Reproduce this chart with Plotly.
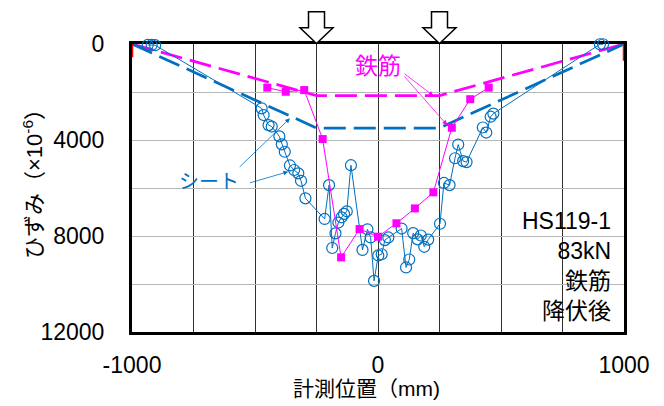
import plotly.graph_objects as go

# ---- data ----
sheet_x = [-936, -920, -906, -473, -465, -445, -432, -401, -391, -379, -358, -341, -324, -313, -295,
           -217, -199, -186, -173, -161, -148, -138, -127, -110, -63, -43, -30, -16, 1, 15, 28, 42,
           96, 114, 127, 143, 161, 174, 188, 204, 252, 268, 291, 313, 326, 346, 360, 426, 440, 458,
           469, 902, 915]
sheet_y = [40, 40, 50, 2680, 2960, 3380, 3440, 3850, 4180, 4490, 5060, 5250, 5390, 5700, 6430,
           7290, 5880, 8500, 7890, 7440, 7220, 7080, 6970, 5050, 8580, 7720, 8060, 9870, 8810, 8760,
           8170, 8060, 7690, 9310, 8980, 7880, 8140, 7980, 8450, 8150, 7490, 5790, 5880, 4760, 4190,
           4880, 4920, 3480, 3690, 3030, 2900, 10, 10]

rebar_x = [-450, -375, -300, -225, -150, -75, 0, 75, 150, 225, 300, 375, 450]
rebar_y = [1820, 1990, 1920, 3960, 8890, 7710, 8030, 7470, 6850, 6180, 3490, 2300, 1820]

sheet_est_x = [-1000, -250, 250, 1000]
sheet_est_y = [0, 3500, 3500, 0]
rebar_est_x = [-1000, -250, 250, 1000]
rebar_est_y = [0, 2150, 2150, 0]

red_left_x = [-1000, -1000]
red_left_y = [0, 550]
red_right_x = [1000, 1000]
red_right_y = [0, 700]

x_gridvals = [-1000, -750, -500, -250, 0, 250, 500, 750, 1000]
x_ticktext = ["-1000", "", "", "", "0", "", "", "", "1000"]
y_gridvals = [0, 2000, 4000, 6000, 8000, 10000, 12000]
y_ticktext = ["0", "", "4000", "", "8000", "", "12000"]
load_points = [-250, 250]

BLUE = "#0070C0"
MAG = "#FF00FF"
FONT = "Liberation Sans, Arial, Noto Sans CJK JP, sans-serif"
DASH = "22px,8px"

fig = go.Figure()
fig.add_trace(go.Scatter(x=rebar_est_x, y=rebar_est_y, mode="lines",
                         line=dict(color=MAG, width=2.75, dash=DASH), cliponaxis=False))
fig.add_trace(go.Scatter(x=sheet_est_x, y=sheet_est_y, mode="lines",
                         line=dict(color=BLUE, width=2.75, dash=DASH), cliponaxis=False))
fig.add_trace(go.Scatter(x=sheet_x, y=sheet_y, mode="lines+markers",
                         line=dict(color=BLUE, width=1),
                         marker=dict(symbol="circle-open", size=11, color=BLUE, line=dict(width=1.2)),
                         cliponaxis=False))
fig.add_trace(go.Scatter(x=rebar_x, y=rebar_y, mode="lines+markers",
                         line=dict(color=MAG, width=1),
                         marker=dict(symbol="square", size=8, color=MAG), cliponaxis=False))
fig.add_trace(go.Scatter(x=red_left_x, y=red_left_y, mode="lines",
                         line=dict(color="#FF0000", width=2.5), cliponaxis=False))
fig.add_trace(go.Scatter(x=red_right_x, y=red_right_y, mode="lines",
                         line=dict(color="#FF0000", width=2.5), cliponaxis=False))

W, H = 664, 406
L, R, T, B = 132, 40, 44, 74
pw, ph = W - L - R, H - T - B


def px_x(px):
    return (px - L) / pw


def px_y(py):
    return (H - B - py) / ph


fig.update_layout(
    width=W, height=H, showlegend=False,
    margin=dict(l=L, r=R, t=T, b=B, pad=0),
    paper_bgcolor="white", plot_bgcolor="white",
    font=dict(family=FONT, color="#000000", size=23),
    xaxis=dict(range=[-1000, 1000], tickmode="array", tickvals=x_gridvals, ticktext=x_ticktext,
               showgrid=True, gridcolor="#303030", gridwidth=1, zeroline=False,
               showline=True, linecolor="#000000", linewidth=3, mirror=True,
               ticks="", ticklabelstandoff=10, tickfont=dict(size=23), layer="below traces"),
    yaxis=dict(range=[12000, 0], tickmode="array", tickvals=y_gridvals, ticktext=y_ticktext,
               showgrid=True, gridcolor="#B8B8B8", gridwidth=1, zeroline=False,
               showline=True, linecolor="#000000", linewidth=3, mirror=True,
               ticks="", ticklabelstandoff=20, tickfont=dict(size=23), layer="below traces"),
)

# axis titles as annotations
fig.add_annotation(xref="paper", yref="paper", x=px_x(366), y=px_y(388),
                   text="計測位置（mm)", showarrow=False, font=dict(size=21),
                   xanchor="center", yanchor="middle")
fig.add_annotation(xref="paper", yref="paper", x=px_x(33), y=px_y(179),
                   text="ひずみ（×10<sup>-6</sup>）", showarrow=False, font=dict(size=22),
                   textangle=-90, xanchor="center", yanchor="middle")

# label texts
fig.add_annotation(x=0, y=920, text="鉄筋", showarrow=False, font=dict(size=23, color=MAG),
                   xanchor="center", yanchor="middle")
fig.add_annotation(x=-687, y=5750, text="シート", showarrow=False, font=dict(size=20, color=BLUE),
                   xanchor="center", yanchor="middle")

# pointer arrows
for (hx, hy, tx, ty, col) in [(225, 2154, 102, 1196, MAG), (281, 3375, 102, 1292, MAG),
                              (-358, 3096, -568, 5179, BLUE), (-365, 5321, -527, 5804, BLUE)]:
    fig.add_annotation(x=hx, y=hy, ax=tx, ay=ty, axref="x", ayref="y", text="", showarrow=True,
                       arrowhead=2, arrowsize=1.2, arrowwidth=0.8, arrowcolor=col)

# info box
fig.add_annotation(xref="paper", yref="paper", x=px_x(613), y=px_y(265.5),
                   text="HS119-1<br>83kN<br>鉄筋<br>降伏後", showarrow=False, align="right",
                   font=dict(size=23, color="#000000"), xanchor="right", yanchor="middle")

# load arrows above the plot
sw, hw = 8 / pw, 16.5 / pw
ytop, yhs, ytip = px_y(11.7), px_y(27.7), px_y(43.5)
for lp in load_points:
    cx = (lp + 1000) / 2000
    path = (f"M {cx - sw},{ytop} L {cx + sw},{ytop} L {cx + sw},{yhs} L {cx + hw},{yhs} "
            f"L {cx},{ytip} L {cx - hw},{yhs} L {cx - sw},{yhs} Z")
    fig.add_shape(type="path", xref="paper", yref="paper", path=path,
                  fillcolor="white", line=dict(color="#000000", width=1.5))

fig.write_html("out.html", config={"displayModeBar": False},
               post_script="document.body.style.margin='0';")
